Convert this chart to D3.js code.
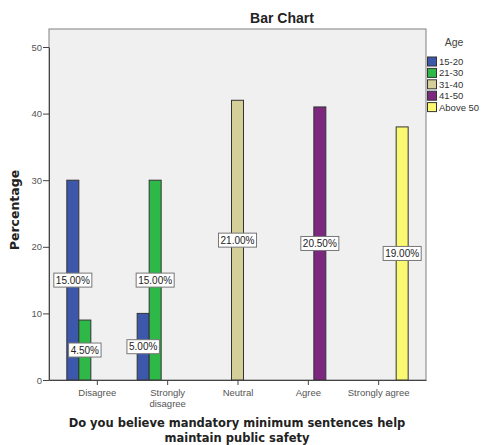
<!DOCTYPE html>
<html><head><meta charset="utf-8">
<script src="https://cdn.jsdelivr.net/npm/d3@7"></script>
<style>body{margin:0;background:#fff}svg{display:block}</style>
</head><body>
<svg id="c" width="482" height="445"></svg>
<script>
const categories = ["Disagree", "Strongly disagree", "Neutral", "Agree", "Strongly agree"];
const categoryLines = [["Disagree"], ["Strongly", "disagree"], ["Neutral"], ["Agree"], ["Strongly agree"]];
const series = ["15-20", "21-30", "31-40", "41-50", "Above 50"];
const colors = ["#3d57ab", "#2db847", "#d4cf98", "#7c287e", "#fbf872"];
// values[series][category]; null = no bar
const values = [
  [30, 10, null, null, null],
  [9, 30, null, null, null],
  [null, null, 42, null, null],
  [null, null, null, 41, null],
  [null, null, null, null, 38]
];
const labels = [
  ["15.00%", "5.00%", null, null, null],
  ["4.50%", "15.00%", null, null, null],
  [null, null, "21.00%", null, null],
  [null, null, null, "20.50%", null],
  [null, null, null, null, "19.00%"]
];
const yTicks = [0, 10, 20, 30, 40, 50];

const svg = d3.select("#c");
const L = 49, R = 426, T = 29, B = 380;
const x = d3.scalePoint().domain(categories).range([L, R]).padding(0.68);
const xs = d3.scaleBand().domain(series).range([-30, 30]);
const y = d3.scaleLinear().domain([0, 50]).range([B, 47]);

svg.append("rect").attr("x", L).attr("y", T).attr("width", R - L).attr("height", B - T)
  .attr("fill", "#f0f0f0").attr("stroke", "#808080").attr("stroke-width", 1);

// bars
series.forEach((s, si) => {
  categories.forEach((c, ci) => {
    const v = values[si][ci];
    if (v == null) return;
    svg.append("rect")
      .attr("x", x(c) + xs(s)).attr("y", y(v))
      .attr("width", xs.bandwidth()).attr("height", y(0) - y(v))
      .attr("fill", colors[si]).attr("stroke", "#333").attr("stroke-width", 1);
  });
});

// labels
series.forEach((s, si) => {
  categories.forEach((c, ci) => {
    const t = labels[si][ci];
    if (t == null) return;
    const v = values[si][ci];
    const cx = x(c) + xs(s) + xs.bandwidth() / 2, cy = y(v / 2);
    const g = svg.append("g");
    const txt = g.append("text").attr("x", cx).attr("y", cy + 3.5)
      .attr("text-anchor", "middle").attr("font-family", "Liberation Sans, Arial, sans-serif")
      .attr("font-size", 10).attr("fill", "#222").text(t);
    const bb = txt.node().getBBox();
    g.insert("rect", "text").attr("x", cx - bb.width / 2 - 2).attr("y", cy - 7)
      .attr("width", bb.width + 4).attr("height", 14)
      .attr("fill", "#fff").attr("stroke", "#777").attr("stroke-width", 1);
  });
});

// y axis
const ya = svg.append("g").attr("transform", `translate(${L},0)`)
  .call(d3.axisLeft(y).tickValues(yTicks).tickSize(6).tickSizeOuter(0));
ya.select(".domain").attr("stroke", "#444");
ya.selectAll(".tick line").attr("stroke", "#444");
ya.selectAll(".tick text").attr("font-family", "Liberation Sans, Arial, sans-serif")
  .attr("font-size", 9.5).attr("fill", "#555").attr("x", -7);

// x axis
const xa = svg.append("g").attr("transform", `translate(0,${B})`)
  .call(d3.axisBottom(x).tickSize(5).tickSizeOuter(0));
xa.select(".domain").attr("stroke", "#444");
xa.selectAll(".tick line").attr("stroke", "#444");
xa.selectAll(".tick text").remove();
xa.selectAll(".tick").each(function(d, i) {
  const t = d3.select(this).append("text").attr("y", 16).attr("text-anchor", "middle")
    .attr("font-family", "Liberation Sans, Arial, sans-serif").attr("font-size", 9.5).attr("fill", "#555");
  categoryLines[i].forEach((ln, k) => t.append("tspan").attr("x", 0).attr("dy", k ? 10.5 : 0).text(ln));
});

// titles
svg.append("text").attr("x", 282).attr("y", 23).attr("text-anchor", "middle")
  .attr("font-family", "Liberation Sans, Arial, sans-serif").attr("font-weight", "bold")
  .attr("font-size", 14).attr("fill", "#222").text("Bar Chart");

svg.append("text").attr("transform", "translate(19,210) rotate(-90)").attr("text-anchor", "middle")
  .attr("font-family", "DejaVu Sans, sans-serif").attr("font-weight", "bold")
  .attr("font-size", 12.5).attr("fill", "#222").text("Percentage");

const xt = svg.append("text").attr("text-anchor", "middle")
  .attr("font-family", "DejaVu Sans, sans-serif").attr("font-weight", "bold")
  .attr("font-size", 11.5).attr("fill", "#222");
xt.append("tspan").attr("x", 237).attr("y", 427).text("Do you believe mandatory minimum sentences help");
xt.append("tspan").attr("x", 237).attr("y", 442).text("maintain public safety");

// legend
svg.append("text").attr("x", 454).attr("y", 46).attr("text-anchor", "middle")
  .attr("font-family", "Liberation Sans, Arial, sans-serif").attr("font-size", 10.5).attr("fill", "#444").text("Age");
const lg = svg.append("g");
series.forEach((s, i) => {
  const yy = 57 + i * 11.4;
  lg.append("rect").attr("x", 427.5).attr("y", yy).attr("width", 9).attr("height", 9)
    .attr("fill", colors[i]).attr("stroke", "#333").attr("stroke-width", 1);
  lg.append("text").attr("x", 439).attr("y", yy + 8).attr("font-family", "Liberation Sans, Arial, sans-serif")
    .attr("font-size", 9.5).attr("fill", "#333").text(s);
});
</script>
</body></html>
